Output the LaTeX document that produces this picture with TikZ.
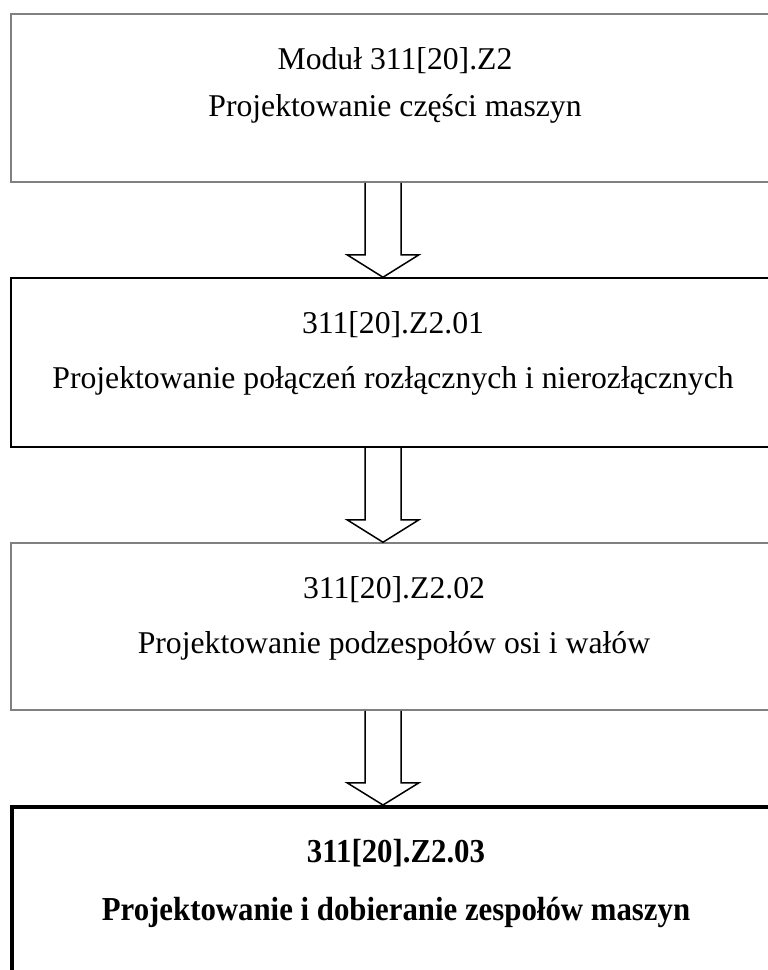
\documentclass[tikz,border=0pt]{standalone}
\usepackage{fontspec}
\setmainfont{Liberation Serif}
\usetikzlibrary{calc}
\begin{document}
\begin{tikzpicture}[x=1pt,y=-1pt,
  box/.style={draw, rectangle, minimum width=779pt, inner sep=0pt, line width=1.5pt},
  txt/.style={anchor=base, inner sep=0pt, font=\fontsize{31.7}{38}\selectfont},
  btxt/.style={anchor=base, inner sep=0pt, font=\fontsize{33.5}{40}\selectfont\bfseries},
  blockarrow/.style={draw=black, line width=1.5pt, line join=miter}]
\useasboundingbox (0,0) rectangle (768,970);
\clip (0,0) rectangle (768,970);
\fill[white] (0,0) rectangle (768,970);
% boxes
\node[box, draw=gray, minimum height=168pt] (b1) at (400.5,98) {};
\node[box, draw=black, minimum height=169pt] (b2) at (400.5,362.5) {};
\node[box, draw=gray, minimum height=167pt] (b3) at (400.5,626.5) {};
\node[box, draw=black, line width=4pt, minimum width=778pt, minimum height=200pt] (b4) at (401,907) {};
% texts
\node[txt] (t1a) at (395,69) {Moduł 311[20].Z2};
\node[txt] (t1b) at (395,116) {Projektowanie części maszyn};
\node[txt] (t2a) at (393,333) {311[20].Z2.01};
\node[txt] (t2b) at (393,388) {Projektowanie połączeń rozłącznych i nierozłącznych};
\node[txt] (t3a) at (394,598) {311[20].Z2.02};
\node[txt] (t3b) at (394,653) {Projektowanie podzespołów osi i wałów};
\node[btxt] (t4a) at (396,862) {\scalebox{0.92}[1]{311[20].Z2.03}};
\node[btxt] (t4b) at (396,920) {\scalebox{0.92}[1]{Projektowanie i dobieranie zespołów maszyn}};
% block arrows
\coordinate (ax) at (383,0);
\foreach \a/\b in {b1/b2, b2/b3, b3/b4}{
  \path (\a.south -| ax) coordinate (top) (\b.north -| ax) coordinate (tip);
  \draw[blockarrow] ($(top)+(-18,0)$) -- ($(top)+(-18,72)$) -- ($(top)+(-36,72)$)
    -- (tip) -- ($(top)+(36,72)$) -- ($(top)+(18,72)$) -- ($(top)+(18,0)$);
}
\end{tikzpicture}
\end{document}
